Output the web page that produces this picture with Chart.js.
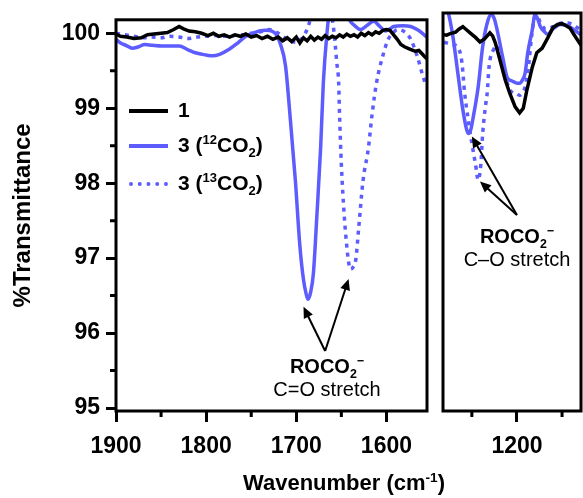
<!DOCTYPE html>
<html>
<head>
<meta charset="utf-8">
<script src="https://cdn.jsdelivr.net/npm/chart.js@4"></script>
<style>
  body { margin: 0; width: 583px; height: 498px; position: relative; overflow: hidden; background: #fff;
         font-family: "Liberation Sans", Arial, sans-serif; color: #000; }
  canvas { position: absolute; top: 0; }
  #left { left: 0; }
  #right { left: 432px; }
  .txt { position: absolute; white-space: nowrap; }
  .leg { position: absolute; left: 129px; height: 24px; line-height: 24px; font-weight: bold; font-size: 21px; }
  .leg .s { display: inline-block; width: 39px; vertical-align: middle; margin-right: 10px; }
  sup, sub { font-size: 62%; line-height: 0; }
  .note { position: absolute; text-align: center; font-size: 20px; line-height: 23px; }
</style>
</head>
<body>
<canvas id="left" width="432" height="498"></canvas>
<canvas id="right" width="151" height="498"></canvas>

<div class="leg" style="top:98px"><span class="s" style="border-top:4px solid #000"></span>1</div>
<div class="leg" style="top:133px"><span class="s" style="border-top:4px solid #5c5cff"></span>3 (<sup>12</sup>CO<sub>2</sub>)</div>
<div class="leg" style="top:171px"><span class="s" style="border-top:4px dotted #5c5cff"></span>3 (<sup>13</sup>CO<sub>2</sub>)</div>

<div class="note" style="left:267px; top:355px; width:120px"><b>ROCO<sub>2</sub><sup>&minus;</sup></b><br>C=O stretch</div>
<div class="note" style="left:457px; top:225px; width:120px"><b>ROCO<sub>2</sub><sup>&minus;</sup></b><br>C&ndash;O stretch</div>

<div class="txt" style="left:243px; top:470px; font-size:22px; font-weight:bold">Wavenumber (cm<sup>-1</sup>)</div>

<script>
document.addEventListener('DOMContentLoaded', function() {
    // sample 1 (black)
    const wn1 = [1900, 1895, 1888, 1880, 1872, 1865, 1858, 1850, 1843, 1836, 1830, 1825, 1819, 1812, 1805,
        1798, 1792, 1786, 1780, 1774, 1768, 1762, 1756, 1750, 1744, 1738, 1732, 1726, 1720, 1715, 1710,
        1705, 1700, 1696, 1692, 1688, 1684, 1680, 1676, 1672, 1668, 1664, 1660, 1656, 1652, 1648, 1644,
        1640, 1636, 1632, 1628, 1624, 1620, 1616, 1612, 1608, 1604, 1600, 1596, 1592, 1588, 1584, 1580,
        1576, 1572, 1568, 1564, 1560, 1557, 1555,
        1283, 1278, 1274, 1268, 1264, 1260, 1256, 1252, 1246, 1241, 1236, 1230, 1227, 1224, 1219, 1213,
        1208, 1202, 1197, 1193, 1189, 1183, 1178, 1172, 1166, 1160, 1155, 1150, 1145, 1141, 1137, 1133, 1128];
    const t1 = [99.99, 99.96, 99.95, 99.93, 99.94, 99.98, 99.99, 100.0, 100.01, 100.05, 100.09, 100.06, 100.03, 100.02, 100.0,
        99.97, 100.0, 99.96, 99.98, 99.95, 99.98, 99.96, 99.99, 99.95, 99.97, 99.93, 99.96, 99.92, 99.95, 99.9, 99.94,
        99.89, 99.95, 99.87, 99.94, 99.9, 99.96, 99.91, 99.95, 99.92, 99.97, 99.93, 99.96, 99.94, 99.98, 99.95, 99.99,
        99.96, 99.98, 99.95, 100.0, 99.97, 100.01, 99.98, 100.02, 100.0, 100.04, 100.05, 100.04, 99.98, 99.92, 99.85, 99.82,
        99.8, 99.78, 99.76, 99.77, 99.72, 99.68, 99.66,
        99.9, 99.89, 99.91, 99.93, 99.97, 100.0, 99.96, 99.92, 99.86, 99.8, 99.84, 99.92, 99.88, 99.79, 99.57, 99.3,
        99.13, 98.95, 98.87, 98.93, 99.17, 99.47, 99.66, 99.72, 99.85, 99.99, 100.03, 100.04, 100.01, 99.98, 99.9, 99.83, 99.74];

    // sample 3 with 12CO2 (solid blue)
    const wn12 = [1900, 1895, 1889, 1882, 1875, 1868, 1860, 1849, 1840, 1830, 1820, 1812, 1800, 1793, 1785,
        1774, 1765, 1756, 1748, 1741, 1734, 1727, 1722, 1718, 1712, 1707, 1701, 1696, 1692, 1689, 1687,
        1684, 1681, 1677, 1673, 1670, 1666, 1663, 1655, 1645, 1640, 1635, 1629, 1622, 1614, 1608, 1601,
        1596, 1592, 1582, 1573, 1566, 1560, 1555,
        1283, 1278, 1276, 1271, 1265, 1260, 1256, 1254, 1251, 1249, 1243, 1238, 1232, 1228, 1225, 1222,
        1216, 1211, 1206, 1204, 1200, 1197, 1194, 1191, 1188, 1183, 1180, 1177, 1174, 1170, 1166, 1160,
        1152, 1145, 1138, 1132, 1128];
    const t12 = [99.92, 99.87, 99.84, 99.8, 99.82, 99.85, 99.84, 99.83, 99.83, 99.83, 99.78, 99.74, 99.71, 99.7, 99.72,
        99.79, 99.87, 99.96, 100.0, 100.03, 100.04, 100.03, 99.98, 99.87, 99.57, 98.91, 98.03, 97.16, 96.71, 96.52, 96.45,
        96.55, 96.8, 97.6, 98.47, 99.34, 100.0, 100.3, 100.5, 100.3, 100.16, 100.1, 100.05, 100.1, 100.16, 100.1, 100.03,
        100.06, 100.09, 100.1, 100.09, 100.05, 100.0, 99.95,
        100.4, 100.25, 100.18, 99.87, 99.34, 98.91, 98.66, 98.6, 98.66, 98.78, 99.21, 99.74, 100.09, 100.16, 100.1, 99.96,
        99.61, 99.34, 99.29, 99.28, 99.26, 99.26, 99.3, 99.39, 99.66, 99.96, 100.16, 100.1, 100.0, 99.94, 99.9, 99.97,
        100.03, 100.02, 99.97, 99.92, 99.88];

    // sample 3 with 13CO2 (dotted blue)
    const wn13 = [1900, 1890, 1880, 1870, 1860, 1850, 1840, 1830, 1820, 1810, 1800, 1790, 1780, 1770, 1760,
        1750, 1740, 1730, 1720, 1710, 1700, 1694, 1690, 1686, 1683, 1678, 1670, 1662, 1659, 1657, 1655,
        1653, 1652, 1650, 1647, 1644, 1642, 1640, 1637, 1634, 1631, 1626, 1620, 1616, 1611, 1604, 1598,
        1593, 1588, 1580, 1573, 1566, 1559, 1555,
        1283, 1276, 1270, 1265, 1261, 1258, 1254, 1250, 1246, 1243, 1240, 1238, 1235, 1233, 1231, 1226,
        1222, 1218, 1213, 1208, 1204, 1200, 1197, 1193, 1191, 1187, 1184, 1181, 1178, 1174, 1168, 1160,
        1150, 1140, 1132, 1128];
    const t13 = [100.0, 99.98, 99.96, 99.94, 99.95, 99.94, 99.96, 99.95, 99.93, 99.95, 99.96, 99.97, 99.96, 99.97, 99.98,
        100.0, 100.02, 100.05, 100.0, 99.92, 99.88, 99.93, 100.0, 100.12, 100.25, 100.4, 100.45, 100.3, 100.1, 99.87, 99.6,
        99.34, 98.91, 98.25, 97.6, 97.16, 96.95, 96.85, 96.88, 96.98, 97.37, 98.03, 98.47, 98.91, 99.34, 99.7, 99.92,
        100.0, 100.05, 100.02, 99.92, 99.7, 99.41, 99.3,
        99.8, 99.78, 99.76, 99.72, 99.53, 99.13, 98.78, 98.47, 98.2, 97.99, 98.2, 98.6, 98.95, 99.13, 99.47, 99.7,
        99.75, 99.6, 99.35, 99.18, 99.13, 99.12, 99.1, 99.15, 99.21, 99.5, 99.85, 100.1, 100.15, 100.05, 99.97, 100.0,
        100.05, 100.04, 99.98, 99.95];

    const yTicks = [95, 96, 97, 98, 99, 100];
    const yMinor = [95.5, 96.5, 97.5, 98.5, 99.5];
    const xTicksLeft = [1600, 1700, 1800, 1900];
    const xMinorLeft = [1650, 1750, 1850];
    const xTicksRight = [1200];
    const xMinorRight = [1150, 1250];

    // arrows in data units: [fromX, fromY, toX, toY]
    const arrowsLeft = [[1668, 95.76, 1692, 96.35], [1668, 95.76, 1642, 96.72]];
    const arrowsRight = [[1200, 97.53, 1250, 98.56], [1200, 97.53, 1241, 97.97]];

    const blue = '#5c5cff';
    const tickFont = { family: '"Liberation Sans", Arial, sans-serif', size: 23, weight: 'bold' };

    function pts(xs, ys) {
        return xs.map((x, i) => ({ x: x, y: ys[i] }));
    }

    function datasets() {
        return [
            { data: pts(wn1, t1), borderColor: '#000', borderWidth: 3.5, tension: 0 },
            { data: pts(wn12, t12), borderColor: blue, borderWidth: 3.5, cubicInterpolationMode: 'monotone' },
            { data: pts(wn13, t13), borderColor: blue, borderWidth: 3.5, borderDash: [4, 5], cubicInterpolationMode: 'monotone' }
        ].map(d => Object.assign(d, { pointRadius: 0, fill: false, clip: 0 }));
    }

    // frame, minor ticks and arrows
    function extras(xMinor, showY, arrows) {
        return {
            id: 'extras',
            afterDraw(chart) {
                const ctx = chart.ctx, a = chart.chartArea;
                const xs = chart.scales.x, ys = chart.scales.y;
                ctx.save();
                ctx.strokeStyle = '#000';
                ctx.fillStyle = '#000';
                ctx.lineWidth = 3;
                ctx.strokeRect(a.left, a.top, a.right - a.left, a.bottom - a.top);
                ctx.beginPath();
                xMinor.forEach(v => {
                    const px = xs.getPixelForValue(v);
                    ctx.moveTo(px, a.bottom);
                    ctx.lineTo(px, a.bottom + 6);
                });
                if (showY) {
                    yMinor.forEach(v => {
                        const py = ys.getPixelForValue(v);
                        ctx.moveTo(a.left, py);
                        ctx.lineTo(a.left - 6, py);
                    });
                }
                ctx.stroke();

                ctx.lineWidth = 2;
                arrows.forEach(ar => {
                    const x0 = xs.getPixelForValue(ar[0]), y0 = ys.getPixelForValue(ar[1]);
                    const x1 = xs.getPixelForValue(ar[2]), y1 = ys.getPixelForValue(ar[3]);
                    const ang = Math.atan2(y1 - y0, x1 - x0);
                    const hl = 11, hw = 5;
                    ctx.beginPath();
                    ctx.moveTo(x0, y0);
                    ctx.lineTo(x1 - Math.cos(ang) * hl * 0.8, y1 - Math.sin(ang) * hl * 0.8);
                    ctx.stroke();
                    ctx.beginPath();
                    ctx.moveTo(x1, y1);
                    ctx.lineTo(x1 - Math.cos(ang) * hl + Math.sin(ang) * hw, y1 - Math.sin(ang) * hl - Math.cos(ang) * hw);
                    ctx.lineTo(x1 - Math.cos(ang) * hl - Math.sin(ang) * hw, y1 - Math.sin(ang) * hl + Math.cos(ang) * hw);
                    ctx.closePath();
                    ctx.fill();
                });
                ctx.restore();
            }
        };
    }

    function xScale(min, max, ticks) {
        return {
            type: 'linear', reverse: true, min: min, max: max,
            afterBuildTicks: s => { s.ticks = ticks.map(v => ({ value: v })); },
            afterFit: s => { s.height = 87; },
            ticks: { font: tickFont, color: '#000', padding: 11, maxRotation: 0, callback: v => String(v) },
            grid: { drawOnChartArea: false, drawTicks: true, tickLength: 11, tickWidth: 3, tickColor: '#000' },
            border: { display: false }
        };
    }

    new Chart(document.getElementById('left'), {
        type: 'line',
        data: { datasets: datasets() },
        options: {
            responsive: false,
            animation: false,
            layout: { padding: { top: 13, right: 5, left: 0, bottom: 0 } },
            plugins: { legend: { display: false }, tooltip: { enabled: false } },
            scales: {
                x: xScale(1555, 1900, xTicksLeft),
                y: {
                    min: 94.96, max: 100.18,
                    afterBuildTicks: s => { s.ticks = yTicks.map(v => ({ value: v })); },
                    afterFit: s => { s.width = 116; },
                    ticks: { font: tickFont, color: '#000', padding: 6, callback: v => String(v) },
                    grid: { drawOnChartArea: false, drawTicks: true, tickLength: 10, tickWidth: 3, tickColor: '#000' },
                    border: { display: false },
                    title: {
                        display: true, text: '%Transmittance', color: '#000',
                        font: { family: '"Liberation Sans", Arial, sans-serif', size: 24, weight: 'bold' },
                        padding: { top: 9, bottom: 0 }
                    }
                }
            }
        },
        plugins: [extras(xMinorLeft, true, arrowsLeft)]
    });

    new Chart(document.getElementById('right'), {
        type: 'line',
        data: { datasets: datasets() },
        options: {
            responsive: false,
            animation: false,
            layout: { padding: { top: 13, right: 2, left: 11, bottom: 0 } },
            plugins: { legend: { display: false }, tooltip: { enabled: false } },
            scales: {
                x: xScale(1129, 1282, xTicksRight),
                y: { display: false, min: 94.96, max: 100.18 }
            }
        },
        plugins: [extras(xMinorRight, false, arrowsRight)]
    });
});
</script>
</body>
</html>
